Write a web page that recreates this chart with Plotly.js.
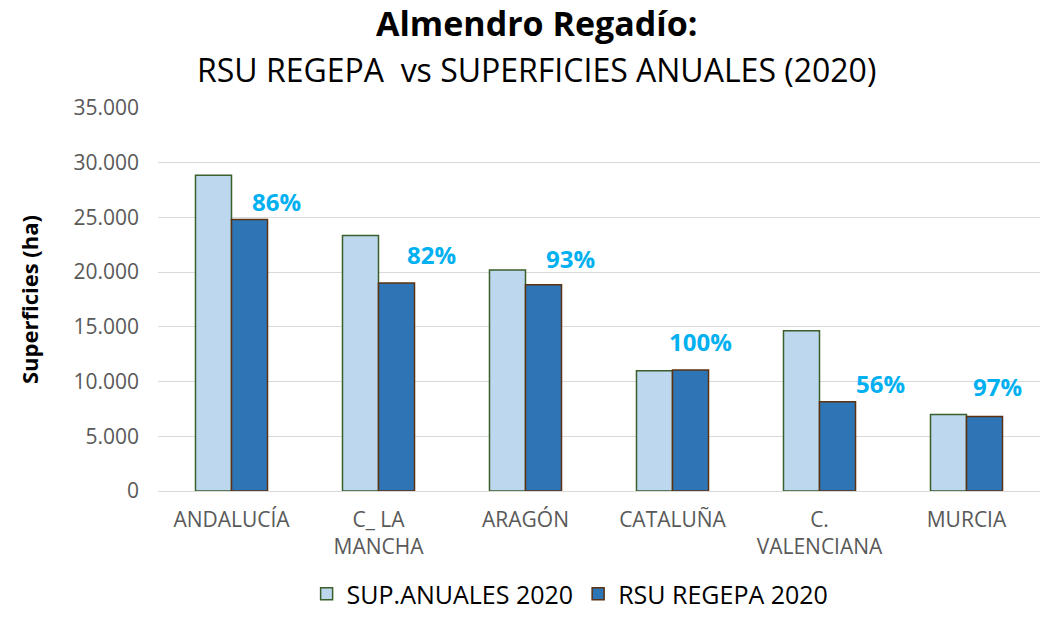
<!DOCTYPE html>
<html>
<head>
<meta charset="utf-8">
<script src="https://cdn.plot.ly/plotly-3.0.1.min.js"></script>
<style>html,body{margin:0;padding:0;background:#fff;}#chart{width:1048px;height:617px;}</style>
</head>
<body>
<div id="chart"></div>
<script>
const categories = ["ANDALUCÍA", "C_ LA<br>MANCHA", "ARAGÓN", "CATALUÑA", "C.<br>VALENCIANA", "MURCIA"];
const supAnuales = [28850, 23350, 20200, 11000, 14650, 7000];
const rsuRegepa = [24800, 19000, 18850, 11050, 8150, 6800];
const pctLabels = ["86%", "82%", "93%", "100%", "56%", "97%"];
const yTickVals = [0, 5000, 10000, 15000, 20000, 25000, 30000, 35000];
const yTickText = ["0", "5.000", "10.000", "15.000", "20.000", "25.000", "30.000", "35.000"];
const titleLine1 = "Almendro Regadío:";
const titleLine2 = "RSU REGEPA&nbsp;&nbsp;vs SUPERFICIES ANUALES (2020)";

const labelXShift = [45, 53, 45, 28, 61, 31];
const labelYShift = [0, 10, 8, 10, 0, 12];

const FONT = "Open Sans, Noto Sans, sans-serif";

const traces = [
  {
    type: "bar", name: "SUP.ANUALES 2020", x: categories, y: supAnuales,
    marker: {color: "#BDD7EE", line: {color: "#3A5F2A", width: 1.5}},
    hoverinfo: "y"
  },
  {
    type: "bar", name: "RSU REGEPA 2020", x: categories, y: rsuRegepa,
    marker: {color: "#2E75B6", line: {color: "#5C3210", width: 1.5}},
    hoverinfo: "y"
  }
];

const annotations = categories.map((c, i) => ({
  x: c, y: rsuRegepa[i], xref: "x", yref: "y",
  text: "<b>" + pctLabels[i] + "</b>", showarrow: false,
  xanchor: "center", yanchor: "bottom",
  xshift: labelXShift[i], yshift: labelYShift[i],
  font: {family: FONT, size: 24, color: "#00B0F0"}
}));

annotations.push({
  xref: "paper", yref: "paper", x: 0.4297, y: (491 - 23) / 383,
  xanchor: "center", yanchor: "middle", showarrow: false,
  text: "<b>" + titleLine1 + "</b>",
  font: {family: FONT, size: 34, color: "#000000"}
});
annotations.push({
  xref: "paper", yref: "paper", x: 0.4297, y: (491 - 69) / 383,
  xanchor: "center", yanchor: "middle", showarrow: false,
  text: titleLine2,
  font: {family: FONT, size: 32, color: "#000000"}
});

const layout = {
  width: 1048, height: 617,
  margin: {l: 158, r: 8, t: 108, b: 126},
  paper_bgcolor: "#FFFFFF", plot_bgcolor: "#FFFFFF",
  font: {family: FONT, color: "#595959"},
  barmode: "group", bargap: 0.51, bargroupgap: 0,
  xaxis: {
    type: "category", tickfont: {family: FONT, size: 21, color: "#595959"},
    showline: false, ticks: "", showgrid: false, automargin: false,
    ticklabelstandoff: 14
  },
  yaxis: {
    range: [0, 35000], tickvals: yTickVals, ticktext: yTickText,
    tickfont: {family: FONT, size: 21, color: "#595959"},
    showgrid: true, gridcolor: "#D9D9D9", gridwidth: 1.3,
    zeroline: true, zerolinecolor: "#D9D9D9", zerolinewidth: 1.3,
    ticks: "", ticklen: 0, automargin: false, ticklabelstandoff: 18,
    title: {text: "<b>Superficies (ha)</b>", standoff: 28,
      font: {family: FONT, size: 22, color: "#000000"}}
  },
  legend: {
    orientation: "h", xref: "container", yref: "container",
    x: 0.544, xanchor: "center", y: 0, yanchor: "bottom",
    font: {family: FONT, size: 25, color: "#000000"},
    itemwidth: 30, traceorder: "normal"
  },
  annotations: annotations,
  showlegend: true
};

Plotly.newPlot("chart", traces, layout, {displayModeBar: false, responsive: false});
</script>
</body>
</html>
